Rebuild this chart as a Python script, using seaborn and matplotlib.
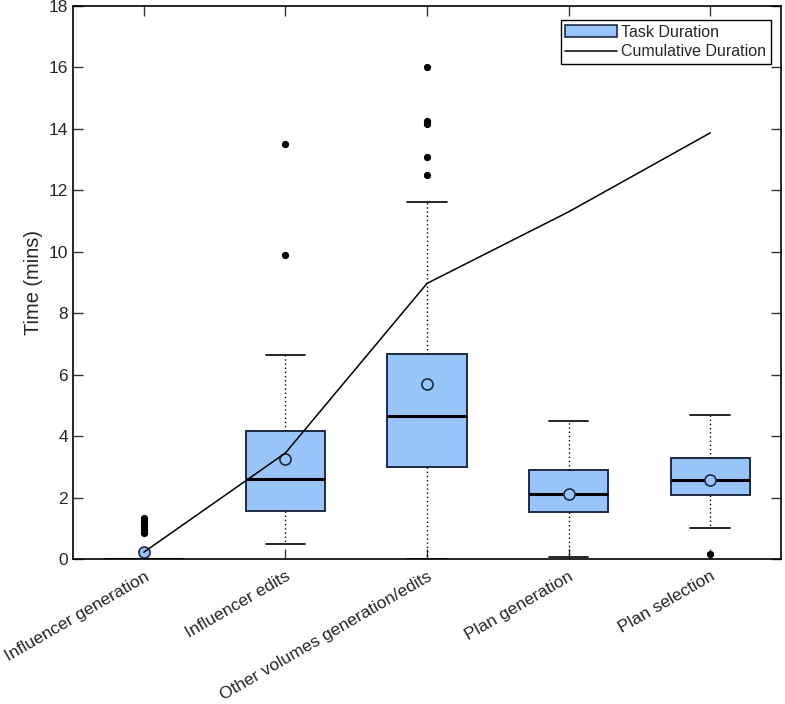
import numpy as np
import matplotlib
matplotlib.use("Agg")
import matplotlib.pyplot as plt
import matplotlib.transforms as mtransforms
import seaborn as sns
from matplotlib.patches import Patch
from matplotlib.lines import Line2D

# datos
tareas = ["Influencer generation", "Influencer edits", "Other volumes generation/edits",
          "Plan generation", "Plan selection"]
q1 = [0.0, 1.55, 3.0, 1.52, 2.07]
mediana = [0.0, 2.6, 4.65, 2.1, 2.56]
q3 = [0.0, 4.15, 6.68, 2.9, 3.3]
bigote_inf = [0.0, 0.5, 0.0, 0.08, 1.0]
bigote_sup = [0.0, 6.65, 11.62, 4.5, 4.7]
media = [0.22, 3.27, 5.7, 2.1, 2.58]
atipicos = [[0.83, 0.95, 1.05, 1.15, 1.25, 1.33],
            [9.9, 13.52],
            [12.5, 13.08, 14.15, 14.25, 16.0],
            [],
            [0.15]]
acumulado = [0.22, 3.45, 8.97, 11.3, 13.87]

sns.set_style("ticks")
plt.rcParams['font.family'] = ['Liberation Sans', 'DejaVu Sans']

azul = "#99c4f8"
borde = "#1c2b45"

fig = plt.figure(figsize=(7.85, 7.04), dpi=100)
ax = fig.add_axes([0.093, 0.206, 0.902, 0.7855])

stats = []
for i in range(len(tareas)):
    stats.append({"label": tareas[i], "q1": q1[i], "med": mediana[i], "q3": q3[i],
                  "whislo": bigote_inf[i], "whishi": bigote_sup[i],
                  "mean": media[i], "fliers": atipicos[i]})

pos = np.arange(1, len(tareas) + 1)
ax.bxp(stats, positions=pos, widths=0.56, patch_artist=True, showmeans=True,
       boxprops=dict(facecolor=azul, edgecolor=borde, linewidth=1.4),
       medianprops=dict(color="black", linewidth=2.2),
       whiskerprops=dict(color="black", linestyle=(0, (1, 2)), linewidth=1),
       capprops=dict(color="black", linewidth=1.2),
       capwidths=0.28,
       flierprops=dict(marker="o", markerfacecolor="black", markeredgecolor="black", markersize=4.2),
       meanprops=dict(marker="o", markerfacecolor=azul, markeredgecolor=borde, markersize=8,
                      markeredgewidth=1.2))

sns.lineplot(x=pos, y=acumulado, ax=ax, color="black", linewidth=1.1, zorder=5)

ax.set_xlim(0.5, 5.5)
ax.set_ylim(0, 18)
ax.set_yticks(np.arange(0, 19, 2))
ax.set_xticks(pos)
ax.set_xticklabels(tareas, rotation=30, ha="right", va="top", rotation_mode="anchor", fontsize=12.5)
desplazar = mtransforms.ScaledTranslation(6 / 100, 0, fig.dpi_scale_trans)
for etiqueta in ax.get_xticklabels():
    etiqueta.set_transform(etiqueta.get_transform() + desplazar)
ax.tick_params(axis="y", labelsize=12.5)
ax.tick_params(direction="in", top=True, right=True, length=7, width=1, color="#333333")
ax.tick_params(axis="x", pad=7)
ax.set_ylabel("Time (mins)", fontsize=14.4)
for s in ax.spines.values():
    s.set_linewidth(1.2)
    s.set_color("black")

manejadores = [Patch(facecolor=azul, edgecolor=borde, linewidth=1.2, label="Task Duration"),
               Line2D([0], [0], color="black", linewidth=1.1, label="Cumulative Duration")]
ley = ax.legend(handles=manejadores, loc="upper right", bbox_to_anchor=(0.986, 0.975),
                fontsize=11.5, fancybox=False, framealpha=1, edgecolor="black",
                borderaxespad=0, handlelength=3.2, handletextpad=0.3, borderpad=0.3,
                labelspacing=0.3)
ley.get_frame().set_linewidth(1.0)

fig.savefig("out.png", dpi=100)
